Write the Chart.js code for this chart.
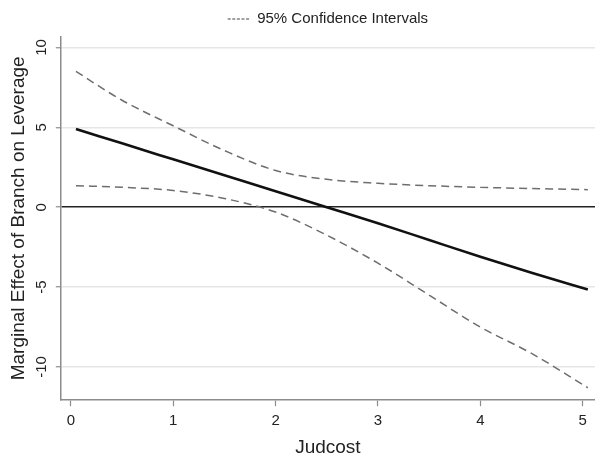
<!DOCTYPE html>
<html>
<head>
<meta charset="utf-8">
<script src="https://cdn.jsdelivr.net/npm/chart.js@4.4.1/dist/chart.umd.min.js"></script>
<style>
  html, body { margin: 0; padding: 0; background: #fff; }
</style>
</head>
<body>
<canvas id="graf_efecto" width="595" height="459"></canvas>
<script>
// --- DATOS ---
const judcost = [0.05, 0.5, 1.0, 1.5, 2.0, 2.5, 3.0, 3.5, 4.0, 4.5, 5.05];
const efecto  = [4.9, 4.0, 3.0, 2.0, 1.0, 0.0, -1.0, -2.05, -3.1, -4.1, -5.15];
const ciSup   = [8.5, 6.7, 5.1, 3.55, 2.3, 1.75, 1.5, 1.35, 1.25, 1.17, 1.1];
const ciInf   = [1.35, 1.25, 1.05, 0.55, -0.3, -1.75, -3.5, -5.5, -7.5, -9.15, -11.3];
const xTicks  = [0, 1, 2, 3, 4, 5];
const yTicks  = [-10, -5, 0, 5, 10];

const FUENTE = "'Liberation Sans', Arial, sans-serif";

function puntos(valores) {
    return judcost.map((x, i) => ({ x: x, y: valores[i] }));
}

const lineaCI = {
    borderColor: "#6e6e6e",
    borderWidth: 1.5,
    borderDash: [8, 5],
    pointRadius: 0,
    fill: false,
    cubicInterpolationMode: "monotone"
};

// la leyenda va centrada sobre el area del grafico, no sobre todo el lienzo
const leyendaCentrada = {
    id: "leyendaCentrada",
    afterLayout(chart) {
        const ley = chart.legend;
        const area = chart.chartArea;
        if (ley && area) {
            ley.left = area.left;
            ley.right = area.right;
        }
    }
};

let grafica = new Chart(document.getElementById("graf_efecto"), {
    type: "line",
    data: {
        datasets: [
            Object.assign({ label: "95% Confidence Intervals", data: puntos(ciSup) }, lineaCI),
            Object.assign({ label: "inferior", data: puntos(ciInf) }, lineaCI),
            {
                label: "Marginal effect",
                data: puntos(efecto),
                borderColor: "#111",
                borderWidth: 2.6,
                pointRadius: 0,
                fill: false,
                cubicInterpolationMode: "monotone"
            }
        ]
    },
    plugins: [leyendaCentrada],
    options: {
        responsive: false,
        animation: false,
        layout: { padding: { left: 0, right: 0, top: 1, bottom: 0 } },
        plugins: {
            tooltip: { enabled: false },
            legend: {
                position: "top",
                labels: {
                    usePointStyle: true,
                    pointStyle: "line",
                    pointStyleWidth: 22,
                    color: "#222",
                    font: { family: FUENTE, size: 15 },
                    padding: 10.5,
                    generateLabels: chart => [{
                        text: chart.data.datasets[0].label,
                        datasetIndex: 0,
                        pointStyle: "line",
                        strokeStyle: "#444",
                        fillStyle: "#444",
                        lineWidth: 1.2,
                        lineDash: [3, 1.6],
                        fontColor: "#222",
                        hidden: false
                    }]
                }
            }
        },
        scales: {
            x: {
                type: "linear",
                min: -0.098,
                max: 5.12,
                afterBuildTicks: axis => { axis.ticks = xTicks.map(v => ({ value: v })); },
                border: { color: "#8c8c8c", width: 1.5 },
                grid: {
                    drawOnChartArea: false,
                    drawTicks: true,
                    tickLength: 6,
                    tickColor: "#8c8c8c",
                    tickWidth: 1.2
                },
                ticks: {
                    color: "#222",
                    padding: 6,
                    maxRotation: 0,
                    font: { family: FUENTE, size: 15 }
                },
                title: {
                    display: true,
                    text: "Judcost",
                    color: "#222",
                    font: { family: FUENTE, size: 19 },
                    padding: { top: 0, bottom: 0 }
                }
            },
            y: {
                type: "linear",
                min: -12.08,
                max: 10.69,
                afterBuildTicks: axis => { axis.ticks = yTicks.map(v => ({ value: v })); },
                border: { color: "#8c8c8c", width: 1.5 },
                grid: {
                    drawTicks: true,
                    tickLength: 5,
                    tickColor: "#8c8c8c",
                    tickWidth: 1.2,
                    color: ctx => ctx.tick && ctx.tick.value === 0 ? "#222" : "#e6e6e6",
                    lineWidth: 1.5
                },
                ticks: {
                    color: "#222",
                    padding: 3,
                    minRotation: 90,
                    maxRotation: 90,
                    crossAlign: "center",
                    font: { family: FUENTE, size: 15 }
                },
                title: {
                    display: true,
                    text: "Marginal Effect of Branch on Leverage",
                    color: "#222",
                    font: { family: FUENTE, size: 19 },
                    padding: { top: 7, bottom: 2 }
                }
            }
        }
    }
});
</script>
</body>
</html>
